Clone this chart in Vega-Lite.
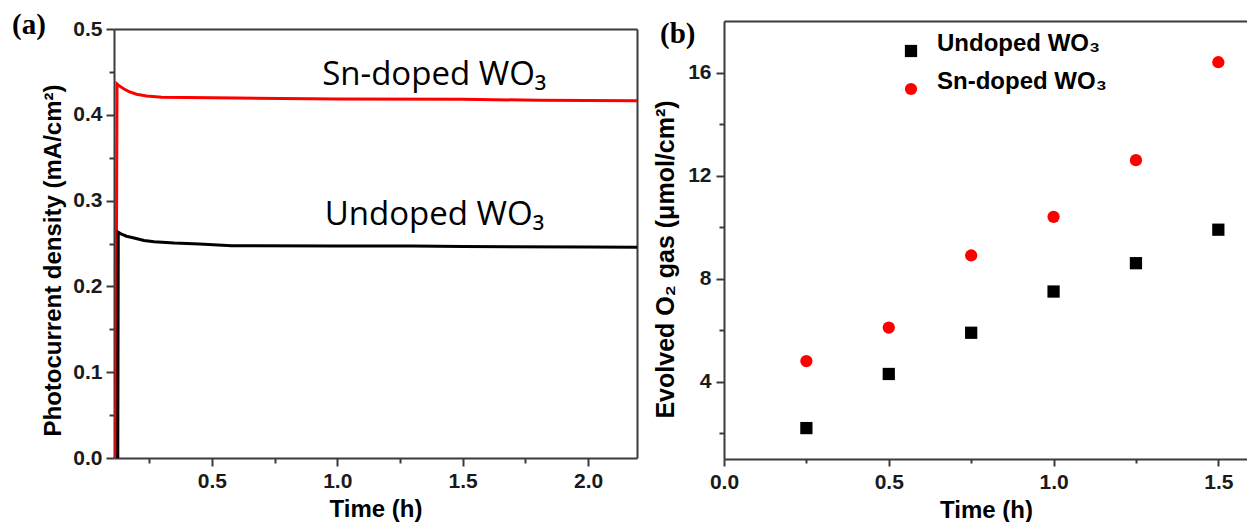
{
  "$schema": "https://vega.github.io/schema/vega-lite/v6.json",
  "padding": {"left": 12, "top": 11, "right": 0, "bottom": 0},
  "spacing": 16,
  "resolve": {"scale": {"color": "independent", "shape": "independent"}, "legend": {"color": "independent", "shape": "independent"}},
  "datasets": {
    "photo": [
      {"t": 0.117, "v": 0.0, "s": "Sn-doped WO₃"},
      {"t": 0.122, "v": 0.436, "s": "Sn-doped WO₃"},
      {"t": 0.13, "v": 0.434, "s": "Sn-doped WO₃"},
      {"t": 0.15, "v": 0.43, "s": "Sn-doped WO₃"},
      {"t": 0.17, "v": 0.427, "s": "Sn-doped WO₃"},
      {"t": 0.2, "v": 0.424, "s": "Sn-doped WO₃"},
      {"t": 0.24, "v": 0.422, "s": "Sn-doped WO₃"},
      {"t": 0.3, "v": 0.4205, "s": "Sn-doped WO₃"},
      {"t": 0.6, "v": 0.4195, "s": "Sn-doped WO₃"},
      {"t": 1.0, "v": 0.4185, "s": "Sn-doped WO₃"},
      {"t": 1.5, "v": 0.418, "s": "Sn-doped WO₃"},
      {"t": 1.8, "v": 0.417, "s": "Sn-doped WO₃"},
      {"t": 2.195, "v": 0.4165, "s": "Sn-doped WO₃"},
      {"t": 0.125, "v": 0.0, "s": "Undoped WO₃"},
      {"t": 0.127, "v": 0.263, "s": "Undoped WO₃"},
      {"t": 0.14, "v": 0.261, "s": "Undoped WO₃"},
      {"t": 0.16, "v": 0.2585, "s": "Undoped WO₃"},
      {"t": 0.19, "v": 0.2565, "s": "Undoped WO₃"},
      {"t": 0.23, "v": 0.2535, "s": "Undoped WO₃"},
      {"t": 0.27, "v": 0.252, "s": "Undoped WO₃"},
      {"t": 0.35, "v": 0.2505, "s": "Undoped WO₃"},
      {"t": 0.45, "v": 0.2495, "s": "Undoped WO₃"},
      {"t": 0.58, "v": 0.2475, "s": "Undoped WO₃"},
      {"t": 1.0, "v": 0.247, "s": "Undoped WO₃"},
      {"t": 1.3, "v": 0.247, "s": "Undoped WO₃"},
      {"t": 1.5, "v": 0.2465, "s": "Undoped WO₃"},
      {"t": 2.0, "v": 0.2458, "s": "Undoped WO₃"},
      {"t": 2.195, "v": 0.2455, "s": "Undoped WO₃"}
    ],
    "o2": [
      {"t": 0.25, "v": 2.2, "s": "Undoped WO₃"},
      {"t": 0.5, "v": 4.3, "s": "Undoped WO₃"},
      {"t": 0.75, "v": 5.9, "s": "Undoped WO₃"},
      {"t": 1.0, "v": 7.5, "s": "Undoped WO₃"},
      {"t": 1.25, "v": 8.6, "s": "Undoped WO₃"},
      {"t": 1.5, "v": 9.9, "s": "Undoped WO₃"},
      {"t": 0.25, "v": 4.8, "s": "Sn-doped WO₃"},
      {"t": 0.5, "v": 6.1, "s": "Sn-doped WO₃"},
      {"t": 0.75, "v": 8.9, "s": "Sn-doped WO₃"},
      {"t": 1.0, "v": 10.4, "s": "Sn-doped WO₃"},
      {"t": 1.25, "v": 12.6, "s": "Sn-doped WO₃"},
      {"t": 1.5, "v": 16.4, "s": "Sn-doped WO₃"}
    ]
  },
  "hconcat": [
    {
      "width": 523,
      "height": 437,
      "resolve": {"axis": {"x": "independent", "y": "independent"}},
      "layer": [
        {
          "data": {"name": "photo"},
          "mark": {"type": "line", "strokeWidth": 3, "clip": true},
          "encoding": {
            "x": {"field": "t", "type": "quantitative",
              "scale": {"domain": [0.11, 2.195], "nice": false, "zero": false},
              "axis": {"orient": "bottom", "title": "Time (h)", "values": [0.25, 0.5, 0.75, 1, 1.25, 1.5, 1.75, 2],
                "labelExpr": "(datum.value*2) % 1 == 0 ? format(datum.value, '.1f') : ''",
                "tickSize": {"condition": {"test": "(datum.value*2) % 1 == 0", "value": 8}, "value": 5},
                "labelFlush": false, "labelPadding": 4, "titlePadding": 6}},
            "y": {"field": "v", "type": "quantitative",
              "scale": {"domain": [0, 0.5], "nice": false, "range": [437, 8]},
              "axis": {"orient": "left", "title": "Photocurrent density (mA/cm²)", "values": [0, 0.05, 0.1, 0.15, 0.2, 0.25, 0.3, 0.35, 0.4, 0.45, 0.5],
                "labelExpr": "abs(datum.value*10 - round(datum.value*10)) < 0.01 ? format(datum.value, '.1f') : ''",
                "tickSize": {"condition": {"test": "abs(datum.value*10 - round(datum.value*10)) < 0.01", "value": 8}, "value": 5},
                "labelFlush": false, "labelPadding": 4, "titlePadding": 7, "titleY": 239}},
            "color": {"field": "s", "type": "nominal",
              "scale": {"domain": ["Sn-doped WO₃", "Undoped WO₃"], "range": ["#ff0000", "#000000"]}, "legend": null}
          }
        },
        {
          "data": {"values": [{}]},
          "mark": {"type": "text", "text": "Sn-doped WO₃", "align": "left", "baseline": "alphabetic", "font": "Open Sans", "fontSize": 33, "color": "#000"},
          "encoding": {
            "x": {"datum": 0.94, "type": "quantitative", "axis": {"orient": "top", "offset": -8, "labels": false, "ticks": false, "title": null, "domain": true}},
            "y": {"datum": 0.4347, "type": "quantitative", "axis": {"orient": "right", "labels": false, "ticks": false, "title": null, "domain": true}}
          }
        },
        {
          "data": {"values": [{}]},
          "mark": {"type": "text", "text": "Undoped WO₃", "align": "left", "baseline": "alphabetic", "font": "Open Sans", "fontSize": 33, "color": "#000"},
          "encoding": {"x": {"datum": 0.95, "type": "quantitative", "axis": null}, "y": {"datum": 0.2716, "type": "quantitative", "axis": null}}
        },
        {
          "data": {"values": [{}]},
          "mark": {"type": "text", "text": "(a)", "align": "left", "baseline": "alphabetic", "font": "Liberation Serif", "fontSize": 29, "fontWeight": "bold", "color": "#000", "dx": -102, "dy": 5},
          "encoding": {"x": {"datum": 0.11, "type": "quantitative", "axis": null}, "y": {"datum": 0.5, "type": "quantitative", "axis": null}}
        }
      ]
    },
    {
      "width": 524,
      "height": 438,
      "resolve": {"axis": {"x": "independent"}},
      "layer": [
        {
          "data": {"name": "o2"},
          "mark": {"type": "point", "filled": true, "size": 150, "opacity": 1},
          "encoding": {
            "x": {"field": "t", "type": "quantitative",
              "scale": {"domain": [0, 1.59], "nice": false, "zero": false},
              "axis": {"title": "Time (h)", "values": [0, 0.25, 0.5, 0.75, 1, 1.25, 1.5],
                "labelExpr": "(datum.value*2) % 1 == 0 ? format(datum.value, '.1f') : ''",
                "tickSize": {"condition": {"test": "(datum.value*2) % 1 == 0", "value": 7}, "value": 4},
                "labelFlush": false, "labelPadding": 5, "titlePadding": 6}},
            "y": {"field": "v", "type": "quantitative",
              "scale": {"domain": [1, 18], "nice": false, "zero": false},
              "axis": {"title": "Evolved O₂ gas (μmol/cm²)", "values": [2, 4, 6, 8, 10, 12, 14, 16],
                "labelExpr": "datum.value % 4 == 0 ? format(datum.value, 'd') : ''",
                "tickSize": {"condition": {"test": "datum.value % 4 == 0", "value": 8}, "value": 5},
                "labelFlush": false, "labelPadding": 5, "titlePadding": 9, "titleY": 238, "titleFontSize": 25}},
            "color": {"field": "s", "type": "nominal",
              "scale": {"domain": ["Undoped WO₃", "Sn-doped WO₃"], "range": ["#000000", "#ff0000"]},
              "legend": {"title": null, "orient": "none", "legendX": 175, "legendY": 18, "labelFont": "Liberation Sans", "labelFontSize": 24, "labelFontWeight": "bold", "labelColor": "#000", "labelBaseline": "alphabetic", "labelLimit": 0, "symbolSize": 150, "labelOffset": 14, "rowPadding": 12, "padding": 0, "symbolStrokeWidth": 0}},
            "shape": {"field": "s", "type": "nominal",
              "scale": {"domain": ["Undoped WO₃", "Sn-doped WO₃"], "range": ["square", "circle"]},
              "legend": {"title": null, "orient": "none", "legendX": 175, "legendY": 18, "labelFont": "Liberation Sans", "labelFontSize": 24, "labelFontWeight": "bold", "labelColor": "#000", "labelBaseline": "alphabetic", "labelLimit": 0, "symbolSize": 150, "labelOffset": 14, "rowPadding": 12, "padding": 0, "symbolStrokeWidth": 0}}
          }
        },
        {
          "data": {"values": [{}]},
          "mark": {"type": "text", "text": "(b)", "align": "left", "baseline": "alphabetic", "font": "Liberation Serif", "fontSize": 29, "fontWeight": "bold", "color": "#000", "dx": -64, "dy": 22},
          "encoding": {
            "x": {"datum": 0, "type": "quantitative", "axis": {"orient": "top", "labels": false, "ticks": false, "title": null, "domain": true}},
            "y": {"datum": 18, "type": "quantitative"}
          }
        }
      ]
    }
  ],
  "config": {
    "font": "Liberation Sans",
    "view": {"stroke": null},
    "axis": {"labelFont": "Liberation Sans", "labelFontSize": 21, "labelFontWeight": "bold", "labelColor": "#1a1a1a",
      "titleFont": "Liberation Sans", "titleFontSize": 24, "titleFontWeight": "bold", "titleColor": "#000",
      "domainColor": "#3a3a3a", "domainWidth": 2, "tickColor": "#3a3a3a", "tickWidth": 2, "grid": false}
  }
}
